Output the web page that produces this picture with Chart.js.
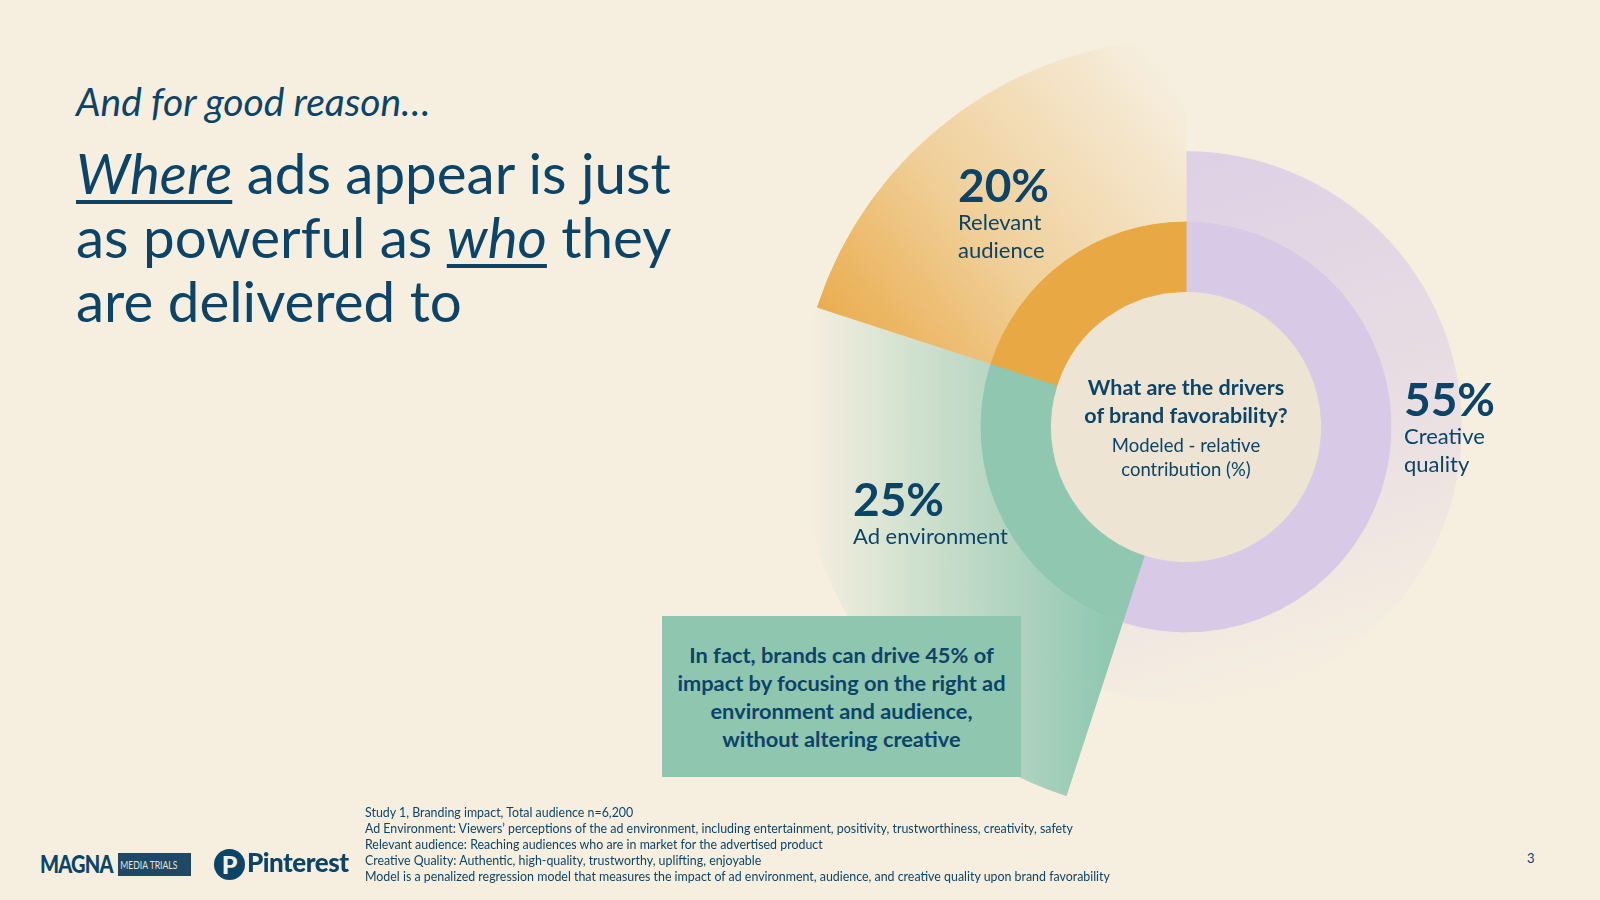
<!DOCTYPE html>
<html>
<head>
<meta charset="utf-8">
<script src="https://cdn.jsdelivr.net/npm/chart.js@4"></script>
<style>
  html, body { margin: 0; padding: 0; }
  body {
    width: 1600px; height: 900px; overflow: hidden; position: relative;
    background: #f6efe0; color: #0c4467; font-family: Lato, "Open Sans", sans-serif;
  }
  .abs { position: absolute; white-space: nowrap; }
  #kicker { left: 76px; top: 78px; font-size: 39px; font-style: italic; }
  #headline { left: 76px; top: 140px; font-size: 56.5px; line-height: 64px; }
  #headline u { text-decoration-thickness: 4px; text-underline-offset: 6px; }
  #chartBox { position: absolute; left: 798px; top: 39px; width: 776px; height: 776px; }
  .pct { font-weight: 700; font-size: 46px; line-height: 46px; }
  .lbl { font-size: 22px; line-height: 28px; }
  #center { left: 1036px; width: 300px; top: 373px; text-align: center; }
  #center .q { font-weight: 700; font-size: 21.5px; line-height: 28px; }
  #center .s { font-size: 18.5px; line-height: 24px; margin-top: 4px; }
  #callout {
    position: absolute; left: 662px; top: 616px; width: 359px; height: 161px;
    background: #8fc6b0; display: flex; align-items: center; justify-content: center;
    text-align: center; font-weight: 700; font-size: 21.8px; line-height: 28px;
  }
  #notes { left: 365px; top: 805px; font-size: 12.4px; line-height: 16px; }
  #page { left: 1527px; top: 850px; font-size: 13px; }
  #magna { left: 40px; top: 848px; font-size: 25px; font-weight: 900; letter-spacing: -1px; transform: scaleX(0.8); transform-origin: left; }
  #trials { left: 118px; top: 853px; width: 73px; height: 23px; background: #1f4766; color: #e9e3d6; font-size: 11px; line-height: 23px; overflow: hidden; }
  #trials span { display: inline-block; transform: scaleX(0.78); transform-origin: left; padding-left: 3px; }
  #pinCircle { left: 214px; top: 849px; width: 31px; height: 31px; border-radius: 50%; background: #0c4467; color: #f6efe0; font-weight: 900; font-size: 25px; line-height: 31px; text-align: center; }
  #pinText { left: 247px; top: 846px; font-size: 26px; font-weight: 900; letter-spacing: -0.5px; }
</style>
</head>
<body>
<div id="kicker" class="abs">And for good reason…</div>
<div id="headline" class="abs"><u><i>Where</i></u> ads appear is just<br>as powerful as <u><i>who</i></u> they<br>are delivered to</div>

<div id="chartBox"><canvas id="drivers"></canvas></div>

<div id="center" class="abs">
  <div class="q">What are the drivers<br>of brand favorability?</div>
  <div class="s">Modeled - relative<br>contribution (%)</div>
</div>

<div id="callout">In fact, brands can drive 45% of<br>impact by focusing on the right ad<br>environment and audience,<br>without altering creative</div>

<div id="notes" class="abs">
Study 1, Branding impact, Total audience n=6,200<br>
Ad Environment: Viewers’ perceptions of the ad environment, including entertainment, positivity, trustworthiness, creativity, safety<br>
Relevant audience: Reaching audiences who are in market for the advertised product<br>
Creative Quality: Authentic, high-quality, trustworthy, uplifting, enjoyable<br>
Model is a penalized regression model that measures the impact of ad environment, audience, and creative quality upon brand favorability
</div>
<div id="page" class="abs">3</div>
<div id="magna" class="abs">MAGNA</div>
<div id="trials" class="abs"><span>MEDIA TRIALS</span></div>
<div id="pinCircle" class="abs">P</div>
<div id="pinText" class="abs">Pinterest</div>

<script>
// relative contribution to brand favorability (%)
const categories = ['Creative quality', 'Ad environment', 'Relevant audience']
const shares = [55, 25, 20]
const labelLines = [['Creative', 'quality'], ['Ad environment'], ['Relevant', 'audience']]

// where the big labels sit on the page
const labelSpots = [
    { left: 1404, top: 376 },
    { left: 853, top: 476 },
    { left: 958, top: 162 }
]

const pageBg = [246, 239, 224]
const solidColors = ['#d8c9e6', '#8fc7b1', '#e8a843']

// labels
categories.forEach((cat, i) => {
    const div = document.createElement('div')
    div.className = 'abs'
    div.style.left = labelSpots[i].left + 'px'
    div.style.top = labelSpots[i].top + 'px'
    div.innerHTML = '<div class="pct">' + shares[i] + '%</div><div class="lbl">' + labelLines[i].join('<br>') + '</div>'
    div.title = cat
    document.body.appendChild(div)
})

// colour laid over the page background, kept opaque so ring seams don't show
const over = (rgb, a) => {
    const c = rgb.map((v, k) => Math.round(v * a + pageBg[k] * (1 - a)))
    return 'rgb(' + c.join(',') + ')'
}

// gradients, in units of the outer radius from the centre
const fade = (chart, x0, y0, x1, y1, stops) => {
    const area = chart.chartArea
    if (!area) return null
    const cx = (area.left + area.right) / 2
    const cy = (area.top + area.bottom) / 2
    const r = Math.min(area.width, area.height) / 2
    const g = chart.ctx.createLinearGradient(cx + x0 * r, cy + y0 * r, cx + x1 * r, cy + y1 * r)
    stops.forEach(s => g.addColorStop(s[0], s[1]))
    return g
}

const purpleFade = chart => fade(chart, 0, -0.71, 0.42, 0.62, [
    [0, over([214, 198, 230], 0.75)], [0.6, over([220, 204, 228], 0.45)], [1, over([232, 220, 228], 0)]
])
const greenFade = chart => fade(chart, -0.19, 0, -0.98, 0, [
    [0, over([143, 199, 177], 1)], [0.55, over([160, 206, 184], 0.55)], [1, over([200, 220, 200], 0)]
])
const orangeFade = chart => fade(chart, -0.97, -0.22, -0.07, -0.95, [
    [0, over([233, 168, 68], 1)], [0.45, over([238, 196, 128], 0.75)], [1, over([246, 236, 220], 0)]
])
const outerFades = [purpleFade, greenFade, orangeFade]

const ctx = document.querySelector('#drivers').getContext('2d')
const chartDrivers = new Chart(ctx, {
    type: 'doughnut',
    data: {
        labels: categories,
        datasets: [
            {
                // outer band, only the left two wedges reach out this far
                data: shares,
                weight: 110,
                backgroundColor: c => c.dataIndex === 0 ? 'rgba(0,0,0,0)' : outerFades[c.dataIndex](c.chart),
                borderColor: c => c.dataIndex === 0 ? 'rgba(0,0,0,0)' : outerFades[c.dataIndex](c.chart),
                borderWidth: 1
            },
            {
                data: shares,
                weight: 68,
                backgroundColor: c => outerFades[c.dataIndex](c.chart),
                borderColor: c => outerFades[c.dataIndex](c.chart),
                borderWidth: 1
            },
            {
                data: shares,
                weight: 69,
                backgroundColor: solidColors,
                borderColor: solidColors,
                borderWidth: 1
            },
            {
                // centre disc
                data: [100],
                weight: 133,
                backgroundColor: ['#ede4d3'],
                borderWidth: 0
            }
        ]
    },
    options: {
        responsive: true,
        maintainAspectRatio: false,
        animation: false,
        events: [],
        cutout: 0,
        layout: { padding: 0 },
        plugins: {
            legend: { display: false },
            tooltip: { enabled: false }
        }
    }
})
</script>
</body>
</html>
